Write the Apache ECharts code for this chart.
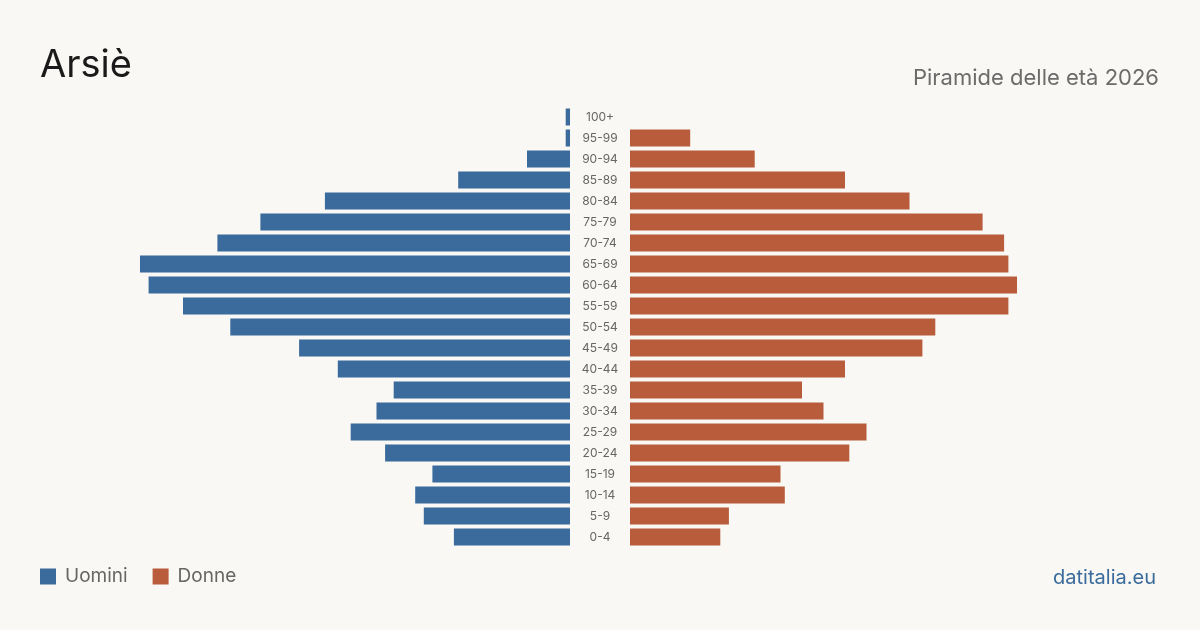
<!DOCTYPE html>
<html>
<head>
<meta charset="utf-8">
<script src="https://cdn.jsdelivr.net/npm/echarts@6/dist/echarts.min.js"></script>
<style>
  html, body { margin: 0; padding: 0; background: #f9f8f4; }
  #chart { width: 1200px; height: 630px; }
</style>
</head>
<body>
<div id="chart"></div>
<script>
// fasce d'età, dall'alto verso il basso
var ageGroups = ['100+', '95-99', '90-94', '85-89', '80-84', '75-79', '70-74', '65-69', '60-64',
  '55-59', '50-54', '45-49', '40-44', '35-39', '30-34', '25-29', '20-24', '15-19', '10-14', '5-9', '0-4'];
var uomini = [1, 1, 10, 26, 57, 72, 82, 100, 98, 90, 79, 63, 54, 41, 45, 51, 43, 32, 36, 34, 27];
var donne = [0, 14, 29, 50, 65, 82, 87, 88, 90, 88, 71, 68, 50, 40, 45, 55, 51, 35, 36, 23, 21];
var maxVal = 100;

var blu = '#3a6b9c';
var rosso = '#b85c3c';
var font = 'Inter, "Noto Sans", sans-serif';

var chart = echarts.init(document.getElementById('chart'));
var option = {
  backgroundColor: '#f9f8f4',
  textStyle: { fontFamily: font },
  title: [
    { text: 'Arsiè', left: 35, top: 42, textStyle: { fontSize: 38, fontWeight: 'normal', color: '#1a1a1a', fontFamily: font } },
    { text: 'Piramide delle età 2026', right: 36, top: 62, textStyle: { fontSize: 22, fontWeight: 'normal', color: '#6b6b6b', fontFamily: font } },
    { text: 'datitalia.eu', right: 39, top: 563, textStyle: { fontSize: 20, fontWeight: 'normal', color: blu, fontFamily: font } }
  ],
  legend: {
    left: 35, top: 562, itemWidth: 16, itemHeight: 16, itemGap: 25, icon: 'rect',
    textStyle: { fontSize: 19, color: '#666', fontFamily: font, padding: [0, 0, 0, 4] },
    data: ['Uomini', 'Donne']
  },
  grid: [
    { left: 140, width: 430, top: 106.5, height: 441 },
    { left: 630, width: 430, top: 106.5, height: 441 }
  ],
  xAxis: [
    { gridIndex: 0, type: 'value', inverse: true, min: 0, max: maxVal, show: false },
    { gridIndex: 1, type: 'value', min: 0, max: maxVal, show: false }
  ],
  yAxis: [
    { gridIndex: 0, type: 'category', inverse: true, data: ageGroups, show: false },
    {
      gridIndex: 1, type: 'category', inverse: true, data: ageGroups,
      axisLine: { show: false }, axisTick: { show: false },
      axisLabel: { align: 'center', margin: 30, fontSize: 12, color: '#666', fontFamily: font }
    }
  ],
  series: [
    { name: 'Uomini', type: 'bar', xAxisIndex: 0, yAxisIndex: 0, data: uomini,
      barCategoryGap: '19%', itemStyle: { color: blu }, silent: true },
    { name: 'Donne', type: 'bar', xAxisIndex: 1, yAxisIndex: 1, data: donne,
      barCategoryGap: '19%', itemStyle: { color: rosso }, silent: true }
  ]
};
chart.setOption(option);
</script>
</body>
</html>
